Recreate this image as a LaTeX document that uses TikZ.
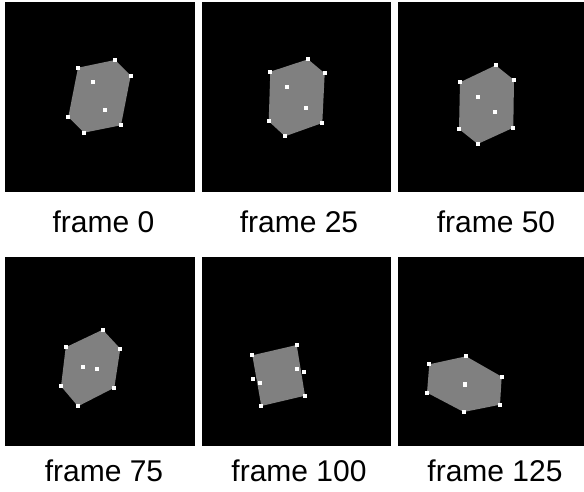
\documentclass[tikz,border=0pt]{standalone}
\usepackage{fontspec}
\setmainfont{Liberation Sans}
\definecolor{shapegray}{RGB}{128,128,128}
\begin{document}
\begin{tikzpicture}[x=1pt,y=-1pt,
  panel/.style={fill=black},
  poly/.style={fill=shapegray},
  mk/.style={rectangle,fill=white,inner sep=0pt,minimum size=4pt},
  lbl/.style={anchor=base,inner sep=0pt,font=\fontsize{30}{36}\selectfont}]
\useasboundingbox[fill=white] (0,0) rectangle (584,492);
% panels
\fill[panel] (5,2) rectangle (194.5,192);
\fill[panel] (201.5,2) rectangle (390.5,192);
\fill[panel] (397.5,2) rectangle (584,192);
\fill[panel] (5,257) rectangle (194.5,446);
\fill[panel] (201.5,257) rectangle (390.5,446);
\fill[panel] (397.5,257) rectangle (584,446);
% frame 0
\fill[poly] (78,67.7) -- (115,60) -- (130.7,75.7) -- (121,125.3) -- (84,132.7) -- (68.3,117) -- cycle;
\foreach \p [count=\i] in {(78,67.7),(115,60),(130.7,75.7),(121,125.3),(84,132.7),(68.3,117),(92.7,82.3),(105.3,109.7)}
  \node[mk] (a\i) at \p {};
% frame 25
\fill[poly] (270.3,71.7) -- (308,59.3) -- (324.7,73.3) -- (322.3,123) -- (285,136.3) -- (268.7,121.3) -- cycle;
\foreach \p [count=\i] in {(270.3,71.7),(308,59.3),(324.7,73.3),(322.3,123),(285,136.3),(268.7,121.3),(287,86.7),(305.7,108.3)}
  \node[mk] (b\i) at \p {};
% frame 50
\fill[poly] (460,82.3) -- (495.7,65.3) -- (514,80) -- (513.3,127.7) -- (477.7,144) -- (459,129) -- cycle;
\foreach \p [count=\i] in {(460,82.3),(495.7,65.3),(514,80),(513.3,127.7),(477.7,144),(459,129),(478.3,97),(494.7,112)}
  \node[mk] (c\i) at \p {};
% frame 75
\fill[poly] (65.7,347.3) -- (102.7,329.7) -- (120.3,348.7) -- (114.3,387.7) -- (78,406.3) -- (61,386.3) -- cycle;
\foreach \p [count=\i] in {(65.7,347.3),(102.7,329.7),(120.3,348.7),(114.3,387.7),(78,406.3),(61,386.3),(83.3,367),(97,368.7)}
  \node[mk] (d\i) at \p {};
% frame 100
\fill[poly] (252.3,355.3) -- (296.7,345) -- (305,395.7) -- (261.3,406) -- cycle;
\foreach \p [count=\i] in {(252.3,355.3),(296.7,345),(304,372),(305,395.7),(261.3,406),(253.3,379.3),(296.7,369),(260,383)}
  \node[mk] (e\i) at \p {};
% frame 125
\fill[poly] (429.3,364.3) -- (466,356.3) -- (501.7,376.7) -- (500,404.7) -- (463.7,412) -- (427,392.7) -- cycle;
\foreach \p [count=\i] in {(429.3,364.3),(466,356.3),(501.7,376.7),(500,404.7),(463.7,412),(427,392.7),(464.7,384.3),(464.7,385.3)}
  \node[mk] (f\i) at \p {};
% labels
\node[lbl] (l0) at (103.5,232) {frame 0};
\node[lbl] (l25) at (299,232) {frame 25};
\node[lbl] (l50) at (496,232) {frame 50};
\node[lbl] (l75) at (104,481) {frame 75};
\node[lbl] (l100) at (299,481) {frame 100};
\node[lbl] (l125) at (495,481) {frame 125};
\end{tikzpicture}
\end{document}
